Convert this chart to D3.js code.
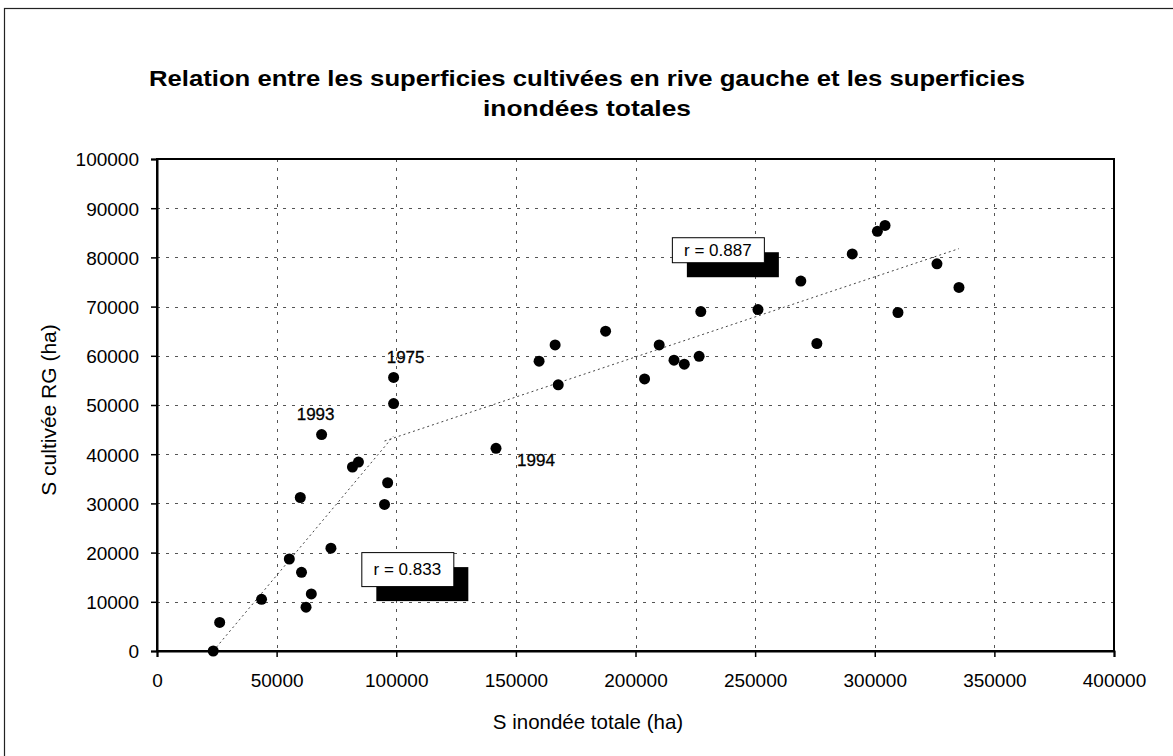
<!DOCTYPE html>
<html>
<head>
<meta charset="utf-8">
<script src="https://cdn.jsdelivr.net/npm/d3@7"></script>
<style>
  html, body { margin: 0; padding: 0; background: #fff; }
  svg { display: block; font-family: "Liberation Sans", Arial, sans-serif; }
</style>
</head>
<body>
<svg id="chart" width="1173" height="756"></svg>
<script>
// Surface inondée totale (ha) and surface cultivée en rive gauche (ha), one entry per year
const surfaceInondee = [
  23500, 26200, 43700, 55300, 59900, 60400, 62300, 64500, 68800, 72700,
  81700, 84200, 95100, 96400, 98900, 98900, 141700, 159700, 166400, 167700,
  187500, 203800, 209900, 216100, 220400, 226600, 227300, 251200, 269100, 275800,
  290600, 301100, 304300, 309700, 326000, 335200
];
const surfaceCultivee = [
  0, 5800, 10500, 18700, 31200, 16000, 8900, 11600, 44000, 20900,
  37400, 38400, 29800, 34200, 50300, 55600, 41200, 58900, 62200, 54100,
  65000, 55300, 62200, 59100, 58300, 59900, 69000, 69400, 75200, 62500,
  80700, 85300, 86500, 68800, 78700, 73900
];

// Years written next to particular points (index into the arrays above)
const anneesPoints = [8, 15, 16];
const anneesLabels = ["1993", "1975", "1994"];

// Two regressions: small floods and large floods (ranges of inundated area)
const regimeMin = [0, 95000];
const regimeMax = [100000, 400000];
const coefficients = ["r = 0.833", "r = 0.887"];

// Axis ticks
const xTicks = [0, 50000, 100000, 150000, 200000, 250000, 300000, 350000, 400000];
const yTicks = [0, 10000, 20000, 30000, 40000, 50000, 60000, 70000, 80000, 90000, 100000];

const svg = d3.select("#chart");
const plot = { left: 157, right: 1114, top: 159, bottom: 651 };

const x = d3.scaleLinear().domain([0, 400000]).range([plot.left, plot.right]);
const y = d3.scaleLinear().domain([0, 100000]).range([plot.bottom, plot.top]);

// outer frame of the chart object
svg.append("rect")
  .attr("x", 4.5).attr("y", 8.5).attr("width", 1200).attr("height", 800)
  .attr("fill", "none").attr("stroke", "#222").attr("stroke-width", 1.2);

// title
const title = svg.append("text")
  .attr("text-anchor", "middle")
  .attr("font-weight", "bold")
  .attr("font-size", 22)
  .attr("fill", "#000");
title.append("tspan").attr("x", 587).attr("y", 86)
  .attr("textLength", 876).attr("lengthAdjust", "spacingAndGlyphs")
  .text("Relation entre les superficies cultivées en rive gauche et les superficies");
title.append("tspan").attr("x", 587).attr("y", 116)
  .attr("textLength", 208).attr("lengthAdjust", "spacingAndGlyphs")
  .text("inondées totales");

// dotted grid
const grid = svg.append("g").attr("stroke", "#555").attr("stroke-width", 1)
  .attr("stroke-dasharray", "3,6");
grid.selectAll("line.h")
  .data(yTicks.filter(d => d > 0 && d < 100000))
  .join("line").attr("class", "h")
  .attr("x1", plot.left).attr("x2", plot.right)
  .attr("y1", d => Math.round(y(d)) + 0.5).attr("y2", d => Math.round(y(d)) + 0.5);
grid.selectAll("line.v")
  .data(xTicks.filter(d => d > 0 && d < 400000))
  .join("line").attr("class", "v")
  .attr("y1", plot.top).attr("y2", plot.bottom)
  .attr("x1", d => Math.round(x(d)) + 0.5).attr("x2", d => Math.round(x(d)) + 0.5);

// plot area border
svg.append("rect")
  .attr("x", plot.left).attr("y", plot.top)
  .attr("width", plot.right - plot.left).attr("height", plot.bottom - plot.top)
  .attr("fill", "none").attr("stroke", "#000").attr("stroke-width", 2);

// axes
const fmt = d3.format("d");
const xAxis = svg.append("g")
  .attr("transform", `translate(0,${plot.bottom})`)
  .call(d3.axisBottom(x).tickValues(xTicks).tickFormat(fmt).tickSize(6).tickPadding(17));
const yAxis = svg.append("g")
  .attr("transform", `translate(${plot.left},0)`)
  .call(d3.axisLeft(y).tickValues(yTicks).tickFormat(fmt).tickSize(6).tickPadding(12));
[xAxis, yAxis].forEach(a => {
  a.select(".domain").attr("stroke", "#000").attr("stroke-width", 2);
  a.selectAll(".tick line").attr("stroke", "#000").attr("stroke-width", 1.5);
  a.selectAll(".tick text").attr("font-size", 19).attr("fill", "#000")
    .attr("font-family", "'Liberation Sans', Arial, sans-serif");
});
yAxis.selectAll(".tick text").attr("dy", "0.36em");

// axis titles
svg.append("text")
  .attr("x", 588).attr("y", 729)
  .attr("text-anchor", "middle").attr("font-size", 20.5).attr("fill", "#000")
  .text("S inondée totale (ha)");
svg.append("text")
  .attr("transform", `translate(56,410) rotate(-90)`)
  .attr("text-anchor", "middle").attr("font-size", 21).attr("fill", "#000")
  .text("S cultivée RG (ha)");

// regression lines, one per flood regime
const points = surfaceInondee.map((v, i) => ({ x: v, y: surfaceCultivee[i] }));
const trends = regimeMin.map((lo, k) => {
  const pts = points.filter(p => p.x >= lo && p.x <= regimeMax[k]);
  const mx = d3.mean(pts, p => p.x), my = d3.mean(pts, p => p.y);
  const sxy = d3.sum(pts, p => (p.x - mx) * (p.y - my));
  const sxx = d3.sum(pts, p => (p.x - mx) ** 2);
  const b = sxy / sxx, a = my - b * mx;
  const [x0, x1] = d3.extent(pts, p => p.x);
  return [{ x: x0, y: a + b * x0 }, { x: x1, y: a + b * x1 }];
});
svg.append("g").selectAll("path")
  .data(trends).join("path")
  .attr("d", d3.line().x(d => x(d.x)).y(d => y(Math.max(0, d.y))))
  .attr("fill", "none").attr("stroke", "#444").attr("stroke-width", 1)
  .attr("stroke-dasharray", "2,3");

// observations
svg.append("g").selectAll("circle")
  .data(points).join("circle")
  .attr("cx", d => x(d.x)).attr("cy", d => y(d.y))
  .attr("r", 5.5).attr("fill", "#000");

// year labels
const yearOffsets = [[-6, -15], [12, -14], [40, 18]];
svg.append("g").selectAll("text")
  .data(anneesPoints).join("text")
  .attr("x", (d, i) => x(points[d].x) + yearOffsets[i][0])
  .attr("y", (d, i) => y(points[d].y) + yearOffsets[i][1])
  .attr("text-anchor", "middle").attr("font-size", 17).attr("fill", "#000")
  .attr("stroke", "#000").attr("stroke-width", 0.3)
  .text((d, i) => anneesLabels[i]);

// correlation boxes with a dark drop block
const boxAnchors = [[85400, 20100, 34], [215200, 84100, 25]];
const boxes = svg.append("g").selectAll("g")
  .data(coefficients).join("g")
  .attr("transform", (d, i) => `translate(${x(boxAnchors[i][0])},${y(boxAnchors[i][1])})`);
boxes.append("rect")
  .attr("x", 15).attr("y", 15).attr("width", 92)
  .attr("height", (d, i) => boxAnchors[i][2]).attr("fill", "#000");
boxes.append("rect")
  .attr("x", 0.5).attr("y", 0.5).attr("width", 92)
  .attr("height", (d, i) => boxAnchors[i][2]).attr("fill", "#fff")
  .attr("stroke", "#000").attr("stroke-width", 1);
boxes.append("text")
  .attr("x", 46).attr("y", (d, i) => boxAnchors[i][2] / 2 + 6)
  .attr("text-anchor", "middle").attr("font-size", 17).attr("fill", "#000")
  .text(d => d);
</script>
</body>
</html>
